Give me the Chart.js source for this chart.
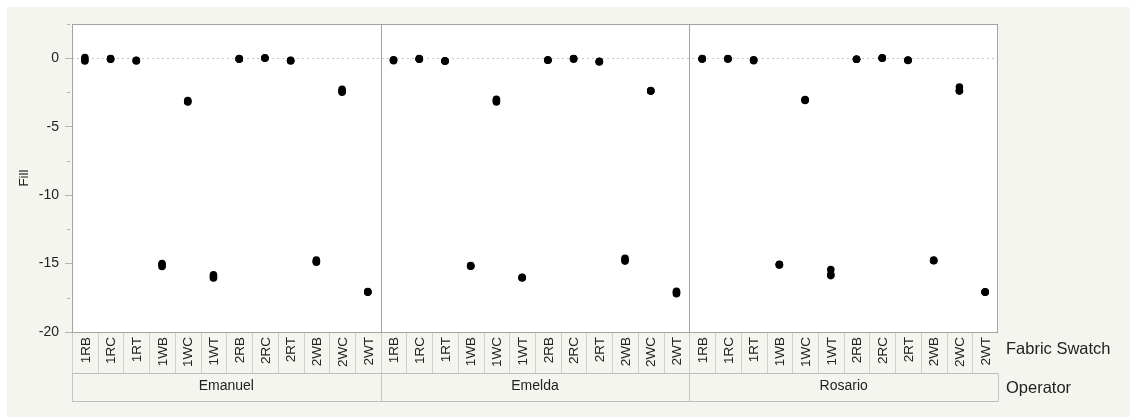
<!DOCTYPE html>
<html>
<head>
<meta charset="utf-8">
<script src="https://cdn.jsdelivr.net/npm/chart.js@4/dist/chart.umd.min.js"></script>
<style>
  html, body { margin: 0; padding: 0; background: #ffffff; }
  #wrap { width: 1130px; height: 417px; }
</style>
</head>
<body>
<div id="wrap"><canvas id="fill" width="1130" height="417"></canvas></div>
<script>
// Fabric swatches measured by each operator (x groups)
const swatches = ['1RB', '1RC', '1RT', '1WB', '1WC', '1WT', '2RB', '2RC', '2RT', '2WB', '2WC', '2WT'];
const operators = ['Emanuel', 'Emelda', 'Rosario'];

// Fill readings, one list of replicates per swatch
const emanuelFill = [
  [0.05, -0.1, -0.2], [-0.05, -0.03, -0.08], [-0.15, -0.2, -0.17], [-15.0, -15.1, -15.22],
  [-3.1, -3.2, -3.15], [-15.82, -15.95, -16.05], [-0.03, -0.07, -0.05], [0.02, 0.0, 0.03],
  [-0.15, -0.2, -0.17], [-14.75, -14.85, -14.9], [-2.27, -2.4, -2.49], [-17.05, -17.07, -17.1]
];
const emeldaFill = [
  [-0.15, -0.12, -0.18], [-0.05, -0.03, -0.07], [-0.2, -0.18, -0.22], [-15.15, -15.17, -15.2],
  [-3.0, -3.1, -3.19], [-16.0, -16.02, -16.05], [-0.15, -0.12, -0.15], [-0.05, -0.02, -0.05],
  [-0.24, -0.22, -0.28], [-14.62, -14.72, -14.82], [-2.39, -2.4, -2.37], [-17.02, -17.12, -17.2]
];
const rosarioFill = [
  [-0.05, -0.03, -0.06], [-0.05, -0.02, -0.06], [-0.15, -0.12, -0.18], [-15.05, -15.08, -15.1],
  [-3.02, -3.05, -3.08], [-15.43, -15.8, -15.88], [-0.07, -0.07, -0.08], [0.02, 0.0, 0.03],
  [-0.15, -0.13, -0.17], [-14.75, -14.8, -14.78], [-2.1, -2.35, -2.4], [-17.07, -17.1, -17.08]
];
const fillByOperator = [emanuelFill, emeldaFill, rosarioFill];

// Y axis range and tick spacing
const yMin = -20;
const yMax = 2.5;
const yStep = 2.5;

const FONT = "'Liberation Sans', Arial, Helvetica, sans-serif";
const PANEL_BG = '#f5f5f0';
const FRAME = '#a3a3a3';
const CELL_LINE = '#cfcfcf';

// Build scatter points: x = position within the nested operator/swatch grid
const points = [];
fillByOperator.forEach((rows, oi) => {
  rows.forEach((reps, si) => {
    reps.forEach(v => points.push({ x: oi * swatches.length + si, y: v }));
  });
});

const nestedAxisPlugin = {
  id: 'nestedAxis',
  beforeDraw(chart) {
    const { ctx, chartArea: a } = chart;
    ctx.save();
    ctx.fillStyle = '#ffffff';
    ctx.fillRect(0, 0, chart.width, chart.height);
    ctx.fillStyle = PANEL_BG;
    ctx.fillRect(7, 7, chart.width - 7, chart.height - 7);
    ctx.fillStyle = '#ffffff';
    ctx.fillRect(a.left, a.top, a.right - a.left, a.bottom - a.top);
    ctx.restore();
  },
  beforeDatasetsDraw(chart) {
    const { ctx, chartArea: a, scales } = chart;
    const xs = scales.x, ys = scales.y;
    ctx.save();
    // reference line at zero
    const y0 = Math.round(ys.getPixelForValue(0)) + 0.5;
    ctx.strokeStyle = '#c4c4c4';
    ctx.lineWidth = 1;
    ctx.setLineDash([2, 3]);
    ctx.beginPath();
    ctx.moveTo(a.left, y0);
    ctx.lineTo(a.right, y0);
    ctx.stroke();
    ctx.setLineDash([]);
    // separators between operator panels
    ctx.strokeStyle = FRAME;
    for (let oi = 1; oi < operators.length; oi++) {
      const px = Math.round(xs.getPixelForValue(oi * swatches.length - 0.5)) + 0.5;
      ctx.beginPath();
      ctx.moveTo(px, a.top);
      ctx.lineTo(px, a.bottom);
      ctx.stroke();
    }
    ctx.restore();
  },
  afterDraw(chart) {
    const { ctx, chartArea: a, scales } = chart;
    const xs = scales.x, ys = scales.y;
    const n = swatches.length;
    const rowTop = Math.round(a.bottom) + 0.5;
    const rowMid = rowTop + 41;
    const rowBot = rowMid + 28;
    ctx.save();

    // minor ticks on the y axis
    ctx.strokeStyle = '#b5b5b5';
    ctx.lineWidth = 1;
    for (let v = yMin; v <= yMax + 1e-9; v += yStep) {
      if (Math.abs(v % 5) > 1e-9) {
        const py = Math.round(ys.getPixelForValue(v)) + 0.5;
        ctx.beginPath();
        ctx.moveTo(a.left - 5, py);
        ctx.lineTo(a.left - 2, py);
        ctx.stroke();
      }
    }

    // swatch cells
    ctx.strokeStyle = CELL_LINE;
    for (let i = 0; i < operators.length * n; i++) {
      const px = Math.round(xs.getPixelForValue(i - 0.5)) + 0.5;
      ctx.beginPath();
      ctx.moveTo(px, rowTop);
      ctx.lineTo(px, rowMid);
      ctx.stroke();
    }
    ctx.fillStyle = '#222222';
    ctx.font = '13.5px ' + FONT;
    ctx.textAlign = 'right';
    ctx.textBaseline = 'middle';
    for (let oi = 0; oi < operators.length; oi++) {
      swatches.forEach((s, si) => {
        const cx = xs.getPixelForValue(oi * n + si) + 1;
        ctx.save();
        ctx.translate(cx, rowTop + 4.5);
        ctx.rotate(-Math.PI / 2);
        ctx.fillText(s, 0, 0);
        ctx.restore();
      });
    }
    // operator cells
    ctx.strokeStyle = '#bdbdbd';
    ctx.beginPath();
    ctx.moveTo(a.left, rowMid);
    ctx.lineTo(a.right, rowMid);
    ctx.moveTo(a.left, rowBot);
    ctx.lineTo(a.right, rowBot);
    ctx.stroke();
    ctx.strokeStyle = '#c4c4c4';
    for (let oi = 0; oi <= operators.length; oi++) {
      const px = Math.round(xs.getPixelForValue(oi * n - 0.5)) + 0.5;
      ctx.beginPath();
      ctx.moveTo(px, rowMid);
      ctx.lineTo(px, rowBot);
      ctx.stroke();
    }
    ctx.font = '14px ' + FONT;
    ctx.textAlign = 'center';
    operators.forEach((name, oi) => {
      const cx = (xs.getPixelForValue(oi * n - 0.5) + xs.getPixelForValue(oi * n + n - 0.5)) / 2;
      ctx.fillText(name, cx, rowMid + 13);
    });

    // outer frame of the plot
    ctx.strokeStyle = FRAME;
    ctx.strokeRect(Math.round(a.left) + 0.5, Math.round(a.top) + 0.5,
      Math.round(a.right - a.left) - 1, Math.round(a.bottom - a.top));

    // nesting level titles
    ctx.fillStyle = '#222222';
    ctx.font = '16.5px ' + FONT;
    ctx.textAlign = 'left';
    ctx.fillText('Fabric Swatch', a.right + 8, rowTop + 17);
    ctx.fillText('Operator', a.right + 8, rowMid + 15);
    ctx.restore();
  }
};

new Chart(document.getElementById('fill'), {
  type: 'scatter',
  data: {
    datasets: [{
      label: 'Fill',
      data: points,
      backgroundColor: '#000000',
      borderColor: '#000000',
      pointRadius: 3.8,
      pointBorderWidth: 0,
      pointHoverRadius: 3.8
    }]
  },
  options: {
    responsive: false,
    devicePixelRatio: 1,
    animation: false,
    events: [],
    layout: { padding: { left: 7, top: 24, right: 132, bottom: 85 } },
    plugins: { legend: { display: false }, tooltip: { enabled: false } },
    scales: {
      x: {
        type: 'linear',
        min: -0.5,
        max: operators.length * swatches.length - 0.5,
        display: false
      },
      y: {
        min: yMin,
        max: yMax,
        afterFit(scale) { scale.width = 65; },
        border: { display: false },
        grid: {
          drawOnChartArea: false,
          tickLength: 7,
          tickColor: ctx => (ctx.tick && Math.abs(ctx.tick.value % 5) < 1e-9) ? '#b5b5b5' : 'rgba(0,0,0,0)'
        },
        ticks: {
          stepSize: yStep,
          padding: 6,
          color: '#222222',
          font: { family: FONT, size: 14 },
          callback: v => (Math.abs(v % 5) < 1e-9 ? String(v) : '')
        },
        title: {
          display: true,
          text: 'Fill',
          color: '#222222',
          font: { family: FONT, size: 13.5 },
          padding: { top: 9, bottom: 0 }
        }
      }
    }
  },
  plugins: [nestedAxisPlugin]
});
</script>
</body>
</html>
